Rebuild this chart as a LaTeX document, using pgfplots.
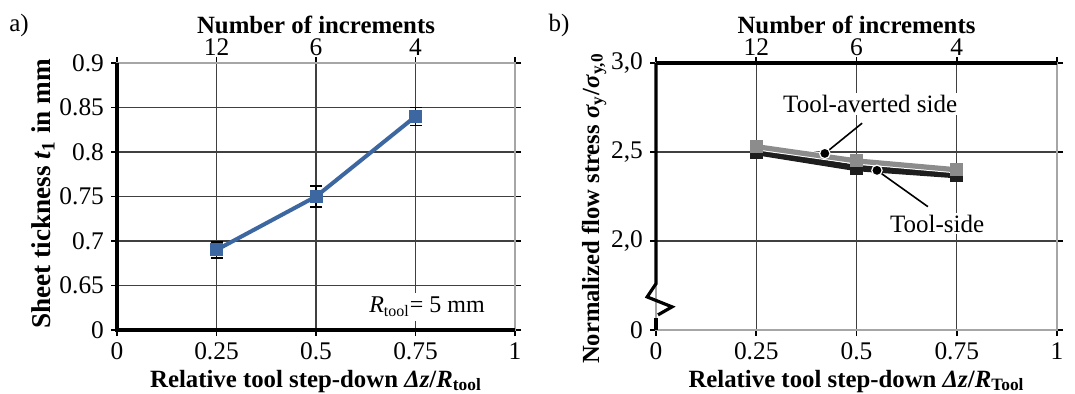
\documentclass[border=0pt]{standalone}
\usepackage{fontspec}
\setmainfont{Liberation Serif}
\usepackage{pgfplots}
\pgfplotsset{compat=1.18}
\definecolor{myblue}{HTML}{3C67A0}
\definecolor{mygray}{HTML}{8C8C8C}
\definecolor{myblack}{HTML}{1E1E1E}
\pgfplotsset{
  base/.style={
    scale only axis, width=199pt, height=133.5pt, anchor=south west,
    xmin=0, xmax=1, clip=false,
    xtick={0,0.25,0.5,0.75,1}, xticklabels={0,0.25,0.5,0.75,1},
    grid=major, grid style={black!75, line width=0.6pt},
    axis line style={gray!70, line width=0.6pt},
    tick style={black, line width=0.8pt}, tick align=outside,
    major tick length=3pt,
    ticklabel style={font=\fontsize{12.7}{12.7}\selectfont},
    label style={font=\fontsize{12.4}{13}\selectfont\bfseries},
    xlabel style={at={(axis description cs:0.5,0)}, anchor=base, yshift=-28.5pt},
    /pgf/number format/assume math mode=true,
  },
  topax/.style={
    scale only axis, width=199pt, height=133.5pt, anchor=south west,
    xmin=0, xmax=1, axis x line*=top, axis y line=none,
    xtick={0.25,0.5,0.75}, xticklabels={12,6,4},
    major tick length=0pt,
    axis line style={draw=none},
    ticklabel style={font=\fontsize{12.7}{12.7}\selectfont},
    label style={font=\fontsize{12.4}{13}\selectfont\bfseries},
    xlabel style={at={(axis description cs:0.5,1)}, anchor=base, yshift=15pt},
    xlabel={Number of increments},
    /pgf/number format/assume math mode=true,
  }
}
\begin{document}
\begin{tikzpicture}
\useasboundingbox (0,0) rectangle (537.5pt,196.5pt);
\node at (9.5pt,184pt) {\fontsize{12.5}{12.5}\selectfont a)};
\node at (279.5pt,184pt) {\fontsize{12.5}{12.5}\selectfont b)};
% ---------------- left
\begin{axis}[base, at={(58.5pt,31.5pt)},
  ymin=0.6, ymax=0.9,
  ytick={0.6,0.65,0.7,0.75,0.8,0.85,0.9},
  yticklabels={0,0.65,0.7,0.75,0.8,0.85,0.9},
  xlabel={Relative tool step-down \textit{Δz}/\textit{R}\textsubscript{tool}},
  ylabel={Sheet tickness \textit{t}\textsubscript{1} in mm},
  ylabel style={at={(axis description cs:0,0.51)}, anchor=center, yshift=37pt, font=\fontsize{13.6}{14}\selectfont\bfseries},
]
\addplot[myblue, line width=2pt, mark=square*, mark size=3pt,
  mark options={fill=myblue, draw=myblue, line width=0.5pt},
  error bars/.cd, y dir=both, y explicit,
  error bar style={black, line width=0.8pt},
  error mark options={black, line width=0.8pt, mark size=3pt, rotate=90}]
  coordinates {(0.25,0.690) +- (0,0.009) (0.5,0.750) +- (0,0.012) (0.75,0.840) +- (0,0.010)};
\draw[black, line width=1.6pt] (rel axis cs:0,1) -- (rel axis cs:0,0) -- (rel axis cs:1,0);
\node[fill=white, inner sep=2pt, font=\fontsize{12}{12}\selectfont] at (axis cs:0.779,0.626) {\textit{R}\textsubscript{tool}= 5 mm};
\end{axis}
\begin{axis}[topax, at={(58.5pt,31.5pt)}, ymin=0.6, ymax=0.9]
\addplot[draw=none] coordinates {(0,0.7)};
\end{axis}
% ---------------- right
\begin{axis}[base, at={(328pt,31.5pt)}, width=200.5pt,
  ymin=1.5, ymax=3.0,
  ytick={1.5,2.0,2.5,3.0},
  yticklabels={0,{2,0},{2,5},{3,0}},
  xlabel={Relative tool step-down \textit{Δz}/\textit{R}\textsubscript{Tool}},
  ylabel={Normalized flow stress \textit{σ}\textsubscript{y}/\textit{σ}\textsubscript{y,0}},
  ylabel style={at={(axis description cs:0,0.455)}, anchor=center, yshift=31pt, font=\fontsize{12.3}{13}\selectfont\bfseries},
]
\addplot[myblack, line width=3.2pt, mark=square*, mark size=3pt,
  mark options={fill=myblack, draw=myblack, line width=0.5pt}]
  coordinates {(0.25,2.50) (0.5,2.41) (0.75,2.37)};
\addplot[white, line width=3.6pt, forget plot]
  coordinates {(0.25,2.53) (0.5,2.45) (0.75,2.40)};
\addplot[mygray, line width=2.6pt, mark=square*, mark size=3pt,
  mark options={fill=mygray, draw=mygray, line width=0.5pt}]
  coordinates {(0.25,2.53) (0.5,2.45) (0.75,2.40)};
\draw[black, line width=1.6pt] (rel axis cs:0,1) -- (rel axis cs:1,1);
\draw[black, line width=1.6pt] (axis cs:0,3.0) -- (axis cs:0,1.76) -- (axis cs:-0.022,1.686) -- (axis cs:0.04,1.63) -- (axis cs:0.005,1.585);
\draw[black, line width=1.6pt] (axis cs:0,1.565) -- (axis cs:0,1.5);
\draw[black, line width=0.8pt] (axis cs:0.514,2.662) -- (axis cs:0.421,2.492);
\draw[black, line width=0.8pt] (axis cs:0.678,2.193) -- (axis cs:0.551,2.397);
\fill[black, draw=white, line width=0.6pt] (axis cs:0.421,2.492) circle (2.6pt);
\fill[black, draw=white, line width=0.6pt] (axis cs:0.551,2.397) circle (2.6pt);
\node[fill=white, inner sep=1pt, font=\fontsize{12.5}{12.5}\selectfont] at (axis cs:0.534,2.769) {Tool-averted side};
\node[fill=white, inner sep=1pt, font=\fontsize{12.5}{12.5}\selectfont] at (axis cs:0.701,2.098) {Tool-side};
\end{axis}
\begin{axis}[topax, at={(328pt,31.5pt)}, width=200.5pt, ymin=1.5, ymax=3.0]
\addplot[draw=none] coordinates {(0,2)};
\end{axis}
\end{tikzpicture}
\end{document}
